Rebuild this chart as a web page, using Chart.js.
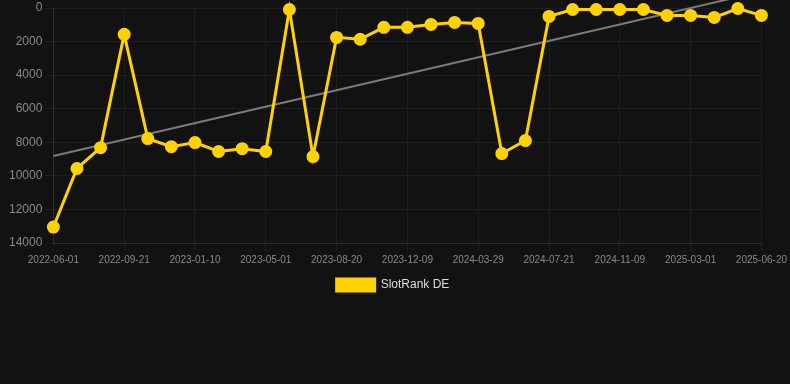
<!DOCTYPE html>
<html>
<head>
<meta charset="utf-8">
<script src="https://cdn.jsdelivr.net/npm/chart.js@4/dist/chart.umd.min.js"></script>
<style>
  html, body { margin: 0; padding: 0; background: #121212; }
  #wrap { width: 790px; height: 301px; }
</style>
</head>
<body>
<div id="wrap"><canvas id="myChart"></canvas></div>
<script>
let date_labels = [
  '2022-06-01','2022-07-08','2022-08-14','2022-09-21','2022-10-28','2022-12-04',
  '2023-01-10','2023-02-16','2023-03-25','2023-05-01','2023-06-07','2023-07-14',
  '2023-08-20','2023-09-26','2023-11-02','2023-12-09','2024-01-15','2024-02-21',
  '2024-03-29','2024-05-05','2024-06-13','2024-07-21','2024-08-27','2024-10-03',
  '2024-11-09','2024-12-16','2025-01-22','2025-03-01','2025-04-07','2025-05-14',
  '2025-06-20'
];

let rank_values = [
  13050, 9560, 8320, 1570, 7780, 8260, 8020, 8550, 8380, 8550, 90,
  8850, 1750, 1860, 1150, 1150, 980, 860, 920, 8670, 7900, 500,
  90, 90, 90, 90, 440, 440, 560, 30, 440
];

// trend line: only the two ends, the rest is left empty
let trend_values = [8820];
for (let i = 1; i < date_labels.length - 1; i++) trend_values.push(null);
trend_values.push(-980);

let y_ticks = [0, 2000, 4000, 6000, 8000, 10000, 12000, 14000];

let data = {
  labels: date_labels,
  datasets: [{
    label: 'SlotRank DE',
    backgroundColor: 'rgb(255, 210, 0)',
    borderColor: 'rgb(255, 210, 0)',
    borderWidth: 3,
    pointRadius: 5,
    pointHoverRadius: 5,
    clip: false,
    data: rank_values,
    order: 1
  }, {
    label: 'trend',
    borderColor: 'rgba(150, 150, 150, 0.8)',
    backgroundColor: 'rgba(150, 150, 150, 0.8)',
    borderWidth: 2,
    pointRadius: 0,
    spanGaps: true,
    clip: false,
    data: trend_values,
    order: 2
  }]
};

let config = {
  type: 'line',
  data: data,
  options: {
    responsive: true,
    maintainAspectRatio: false,
    animation: false,
    layout: { padding: { top: 0, right: 10, left: 6 } },
    plugins: {
      legend: {
        position: 'bottom',
        labels: {
          color: '#dddddd',
          font: { family: 'Liberation Sans, Arial', size: 12 },
          boxWidth: 38,
          boxHeight: 12,
          filter: function(item) { return item.text !== 'trend'; }
        }
      },
      tooltip: { enabled: false }
    },
    scales: {
      x: {
        grid: { color: 'rgba(255,255,255,0.05)' },
        border: { color: 'rgba(255,255,255,0.08)' },
        ticks: {
          color: '#888888',
          font: { family: 'Liberation Sans, Arial', size: 10 },
          autoSkip: false,
          maxRotation: 0,
          callback: function(v, i) { return i % 3 === 0 ? date_labels[i] : null; }
        }
      },
      y: {
        reverse: true,
        min: 0,
        max: 14000,
        afterBuildTicks: function(axis) { axis.ticks = y_ticks.map(v => ({ value: v })); },
        afterFit: function(axis) { axis.paddingTop = 6; },
        grid: { color: 'rgba(255,255,255,0.05)' },
        border: { color: 'rgba(255,255,255,0.08)' },
        ticks: {
          color: '#888888',
          font: { family: 'Liberation Sans, Arial', size: 12 },
          callback: function(v) { return String(v); }
        }
      }
    }
  }
};

let myChart = new Chart(document.getElementById('myChart'), config);
</script>
</body>
</html>
